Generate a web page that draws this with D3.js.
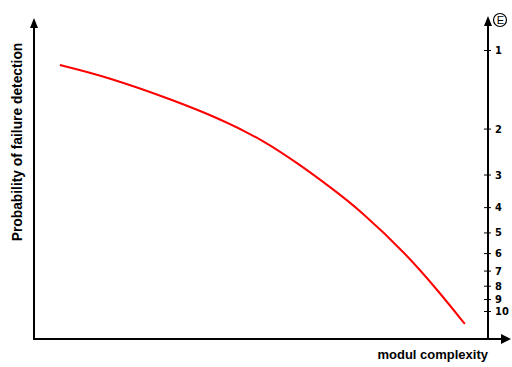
<!DOCTYPE html>
<html>
<head>
<meta charset="utf-8">
<style>
  body { margin: 0; background: #fff; }
  .curve { fill: none; stroke: #ff0000; stroke-width: 2; }
  .lbl { font-family: Arial, "Liberation Sans", sans-serif; font-weight: bold; font-size: 13px; }
  .eaxis text { font-family: "Liberation Sans Narrow", "DejaVu Sans Condensed", sans-serif; font-weight: bold; font-size: 11px; }
</style>
</head>
<body>
<svg width="512" height="367"></svg>
<script src="https://d3js.org/d3.v7.min.js"></script>
<script>
// complexity (0..100) vs probability of failure detection (0..100)
var complexity = [5.7, 16.1, 30.6, 41.0, 50.4, 58.6, 65.2, 71.8, 82.2, 89.4, 94.9];
var probability = [85.6, 81.9, 74.7, 68.8, 62.2, 54.4, 47.5, 40.3, 26.3, 14.4, 4.7];
var eTicks = [1, 2, 3, 4, 5, 6, 7, 8, 9, 10];

var svg = d3.select("svg");
var plotLeft = 34, plotRight = 488, plotBottom = 339, plotTop = 19;

var x = d3.scaleLinear().domain([0, 100]).range([plotLeft, plotRight]);
var y = d3.scaleLinear().domain([0, 100]).range([plotBottom, plotTop]);
var e = d3.scaleLog().domain([1, 10]).range([50, 311]);

// axes lines
svg.append("line").attr("x1", plotLeft).attr("y1", plotBottom).attr("x2", plotLeft).attr("y2", 26)
    .attr("stroke", "#000").attr("stroke-width", 2);
svg.append("line").attr("x1", plotLeft - 1).attr("y1", plotBottom).attr("x2", 503).attr("y2", plotBottom)
    .attr("stroke", "#000").attr("stroke-width", 2);
svg.append("line").attr("x1", plotRight).attr("y1", plotBottom).attr("x2", plotRight).attr("y2", 24)
    .attr("stroke", "#000").attr("stroke-width", 2);

// arrow heads
svg.append("path").attr("d", d3.line()([[plotLeft - 4, 28], [plotLeft, 18], [plotLeft + 4, 28]])).attr("fill", "#000");
svg.append("path").attr("d", d3.line()([[plotRight - 4, 26], [plotRight, 16], [plotRight + 4, 26]])).attr("fill", "#000");
svg.append("path").attr("d", d3.line()([[501, plotBottom - 5], [511, plotBottom], [501, plotBottom + 5]])).attr("fill", "#000");

// E label
svg.append("circle").attr("cx", 500).attr("cy", 20).attr("r", 6.5)
    .attr("fill", "#fff").attr("stroke", "#000").attr("stroke-width", 1.2);
svg.append("text").attr("x", 500.5).attr("y", 24).attr("text-anchor", "middle")
    .style("font-family", "Arial, sans-serif").style("font-size", "11px").text("E");

// right log axis
var ea = svg.append("g").attr("class", "eaxis")
    .attr("transform", "translate(" + plotRight + ",0)")
    .call(d3.axisRight(e).tickValues(eTicks).tickFormat(d3.format("d")).tickSize(-5).tickPadding(7));
ea.select(".domain").remove();
ea.selectAll(".tick line").attr("x2", 3).attr("x1", -4).attr("stroke", "#000");

// curve
var line = d3.line()
    .x(function (d, i) { return x(complexity[i]); })
    .y(function (d, i) { return y(probability[i]); })
    .curve(d3.curveBasis);
svg.append("path").datum(probability).attr("class", "curve").attr("d", line);

// labels
svg.append("text").attr("class", "lbl").attr("x", 488).attr("y", 359)
    .attr("text-anchor", "end").text("modul complexity");
svg.append("text").attr("class", "lbl").attr("text-anchor", "middle")
    .style("font-size", "13.8px")
    .attr("transform", "translate(22,142) rotate(-90)").text("Probability of failure detection");
</script>
</body>
</html>
